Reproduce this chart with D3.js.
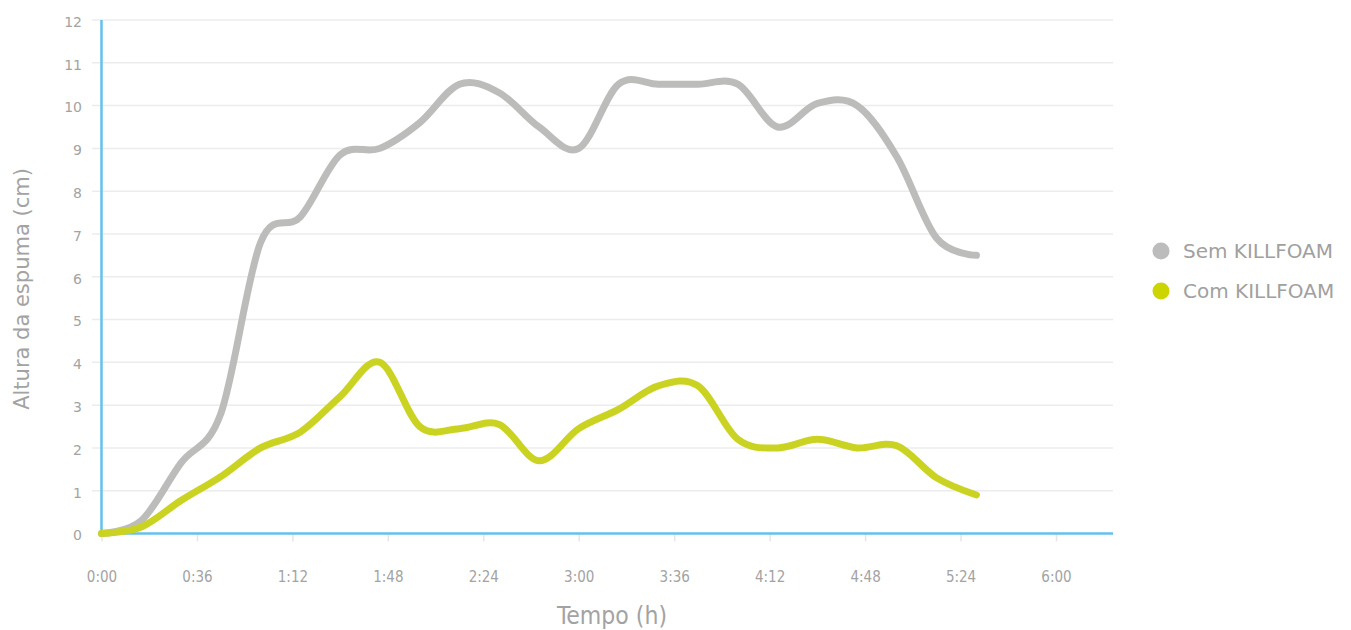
<!DOCTYPE html>
<html>
<head>
<meta charset="utf-8">
<script src="https://cdn.jsdelivr.net/npm/d3@7"></script>
<style>
  html, body { margin: 0; padding: 0; background: #ffffff; }
  svg { display: block; }
</style>
</head>
<body>
<svg id="chart" width="1351" height="630"></svg>
<script>
// Sample times in minutes since start
const minutes = [0, 15, 30, 45, 60, 75, 90, 105, 120, 135, 150, 165, 180, 195, 210, 225, 240, 255, 270, 285, 300, 315, 330];

// Foam height (cm) without and with KILLFOAM
const semKillfoam = [0, 0.3, 1.65, 2.8, 6.8, 7.4, 8.85, 9.0, 9.6, 10.5, 10.3, 9.5, 9.0, 10.5, 10.5, 10.5, 10.5, 9.5, 10.05, 10.0, 8.8, 6.9, 6.5];
const comKillfoam = [0, 0.15, 0.77, 1.33, 2.0, 2.37, 3.2, 4.0, 2.5, 2.45, 2.55, 1.7, 2.45, 2.9, 3.45, 3.45, 2.2, 2.0, 2.2, 2.0, 2.05, 1.3, 0.9];

const seriesNames = ["Sem KILLFOAM", "Com KILLFOAM"];
const seriesColors = ["#bcbcbb", "#cbd322"];
const legendColors = ["#bcbcbc", "#cdd500"];

// X ticks every 36 minutes, labelled h:mm
const xTickValues = [0, 36, 72, 108, 144, 180, 216, 252, 288, 324, 360];
const xTickLabels = ["0:00", "0:36", "1:12", "1:48", "2:24", "3:00", "3:36", "4:12", "4:48", "5:24", "6:00"];
const yTickValues = [0, 1, 2, 3, 4, 5, 6, 7, 8, 9, 10, 11, 12];

const svg = d3.select("#chart");

const x = d3.scaleLinear().domain([0, 381.5]).range([101.5, 1113]);
const y = d3.scaleLinear().domain([0, 12]).range([533.5, 20]);

// Horizontal grid lines
svg.append("g")
  .selectAll("line")
  .data(yTickValues.filter(v => v > 0))
  .join("line")
  .attr("x1", 92).attr("x2", 1113)
  .attr("y1", d => y(d)).attr("y2", d => y(d))
  .attr("stroke", "#ececec")
  .attr("stroke-width", 1.5);

// Y axis labels
const yAxis = d3.axisLeft(y).tickValues(yTickValues).tickSize(0).tickPadding(0).tickFormat(d3.format("d"));
const yg = svg.append("g").attr("transform", "translate(82,0)").call(yAxis);
yg.select(".domain").remove();
yg.selectAll("text")
  .attr("dy", "0.45em")
  .attr("fill", "#a3a3a3")
  .style("font-family", "'DejaVu Sans', Verdana, sans-serif")
  .style("font-size", "14px");

// X axis ticks and labels
const xAxis = d3.axisBottom(x).tickValues(xTickValues).tickSize(8)
  .tickFormat((d, i) => xTickLabels[i]).tickPadding(30);
const xg = svg.append("g").attr("transform", "translate(0,533.5)").call(xAxis);
xg.select(".domain").remove();
xg.selectAll(".tick line").attr("stroke", "#e6e6e6").attr("stroke-width", 1.5);
xg.selectAll("text")
  .attr("fill", "#a3a3a3")
  .style("font-family", "'DejaVu Sans Condensed', 'DejaVu Sans', sans-serif")
  .style("font-size", "15px");

// Axis lines
svg.append("line")
  .attr("x1", x(0)).attr("x2", x(0))
  .attr("y1", y(12)).attr("y2", y(0))
  .attr("stroke", "#64c1ec").attr("stroke-width", 2.5);
svg.append("line")
  .attr("x1", x(0) - 1).attr("x2", 1113)
  .attr("y1", y(0)).attr("y2", y(0))
  .attr("stroke", "#64c1ec").attr("stroke-width", 2.5);

// Smoothed series lines
const line = d3.line()
  .x((d, i) => x(minutes[i]))
  .y(d => y(d))
  .curve(d3.curveCatmullRom.alpha(0));

[semKillfoam, comKillfoam].forEach((values, k) => {
  svg.append("path")
    .datum(values)
    .attr("d", line)
    .attr("fill", "none")
    .attr("stroke", seriesColors[k])
    .attr("stroke-width", 7)
    .attr("stroke-linecap", "round")
    .attr("stroke-linejoin", "round");
});

// Axis titles
svg.append("text")
  .attr("x", 612).attr("y", 624)
  .attr("text-anchor", "middle")
  .attr("fill", "#a3a3a3")
  .style("font-family", "'DejaVu Sans Condensed', 'DejaVu Sans', sans-serif")
  .style("font-size", "24.5px")
  .text("Tempo (h)");

svg.append("text")
  .attr("transform", "translate(29,289) rotate(-90)")
  .attr("text-anchor", "middle")
  .attr("fill", "#a3a3a3")
  .style("font-family", "'DejaVu Sans', Verdana, sans-serif")
  .style("font-size", "21px")
  .text("Altura da espuma (cm)");

// Legend
const legend = svg.append("g");
seriesNames.forEach((name, k) => {
  const cy = 251 + k * 40;
  legend.append("circle")
    .attr("cx", 1161).attr("cy", cy).attr("r", 8.5)
    .attr("fill", legendColors[k]);
  legend.append("text")
    .attr("x", 1183).attr("y", cy)
    .attr("dy", "0.34em")
    .attr("fill", "#a0a0a0")
    .style("font-family", "'DejaVu Sans', Verdana, sans-serif")
    .style("font-size", "20px")
    .text(name);
});
</script>
</body>
</html>
